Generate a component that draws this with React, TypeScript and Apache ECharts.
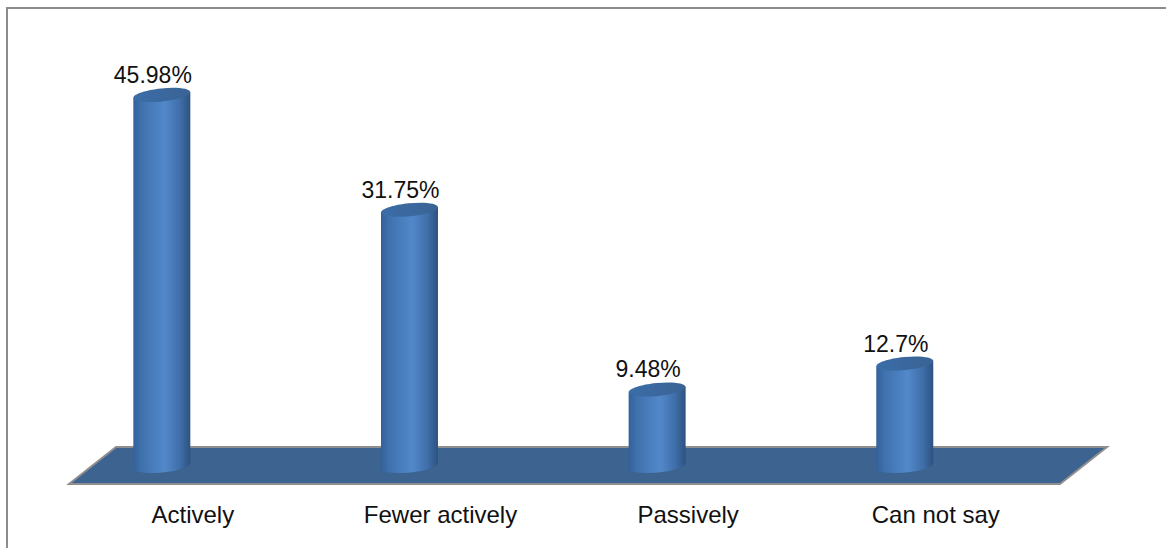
import React, { useEffect, useRef } from "react";
import * as echarts from "echarts";

const categories = ["Actively", "Fewer actively", "Passively", "Can not say"];
const shares = [45.98, 31.75, 9.48, 12.7];

const FONT = '"Liberation Sans", Arial, sans-serif';
const CYL_HALF = 28.5;
const CYL_RY = 6.5;
const TILT = 0.1;
const LIFT = CYL_HALF * Math.sin(TILT);

const bodyFill = () =>
  new echarts.graphic.LinearGradient(0, 0, 1, 0, [
    { offset: 0, color: "#33619a" },
    { offset: 0.14, color: "#3f71ad" },
    { offset: 0.55, color: "#5288ca" },
    { offset: 0.82, color: "#3f6ea8" },
    { offset: 1, color: "#2d5280" },
  ]);

const capFill = () =>
  new echarts.graphic.LinearGradient(0, 0, 1, 0, [
    { offset: 0, color: "#3b6da8" },
    { offset: 1, color: "#3a6394" },
  ]);

// One cylinder: tilted base ellipse, shaded shaft, tilted cap and its label.
const renderCylinder = (params: any, api: any) => {
  const value = api.value(1) as number;
  const [cx, top] = api.coord([api.value(0), value]);
  const [, base] = api.coord([api.value(0), 0]);
  const ellipseAt = (cy: number, fill: any) => ({
    type: "ellipse",
    shape: { cx: 0, cy: 0, rx: CYL_HALF, ry: CYL_RY },
    x: cx,
    y: cy,
    rotation: TILT,
    style: { fill },
  });
  return {
    type: "group",
    children: [
      ellipseAt(base, bodyFill()),
      {
        type: "polygon",
        shape: {
          points: [
            [cx - CYL_HALF, top + LIFT],
            [cx + CYL_HALF, top - LIFT],
            [cx + CYL_HALF, base - LIFT],
            [cx - CYL_HALF, base + LIFT],
          ],
        },
        style: { fill: bodyFill() },
      },
      ellipseAt(top, capFill()),
      {
        type: "text",
        x: cx - 9,
        y: top - 8.5,
        style: {
          text: `${value}%`,
          fill: "#111",
          font: `23px ${FONT}`,
          align: "center",
          verticalAlign: "bottom",
        },
      },
    ],
  };
};

export default function App() {
  const ref = useRef<HTMLDivElement>(null);

  useEffect(() => {
    const chart = echarts.init(ref.current!, undefined, { renderer: "svg" });
    chart.setOption({
      animation: false,
      backgroundColor: "#ffffff",
      grid: { left: 38, top: 62.5, width: 990.6, height: 403.5 },
      xAxis: {
        type: "category",
        data: categories,
        axisLine: { show: false },
        axisTick: { show: false },
        axisLabel: {
          interval: 0,
          margin: 36,
          color: "#111",
          fontFamily: FONT,
          fontSize: 24,
          // The floor is drawn in perspective, so the names sit right of their cylinders.
          padding: [0, 0, 0, 62],
        },
      },
      yAxis: { type: "value", min: 0, max: 50, show: false },
      graphic: [
        {
          type: "polyline",
          z: 0,
          shape: { points: [[7, 548], [7, 8], [1166, 8]] },
          style: { stroke: "#8c8c8c", lineWidth: 2, fill: "none" },
        },
        {
          type: "polygon",
          z: 0,
          shape: { points: [[116, 447], [1107, 447], [1060, 484], [69, 484]] },
          style: { fill: "#3d6390", stroke: "#8f8f8f", lineWidth: 2 },
        },
      ],
      series: [
        {
          type: "custom",
          renderItem: renderCylinder,
          data: shares.map((v, i) => [i, v]),
          encode: { x: 0, y: 1 },
          clip: false,
          z: 5,
        },
      ],
    });
    return () => chart.dispose();
  }, []);

  return (
    <div
      ref={ref}
      style={{ position: "absolute", left: 0, top: 0, width: 1166, height: 548 }}
    />
  );
}
